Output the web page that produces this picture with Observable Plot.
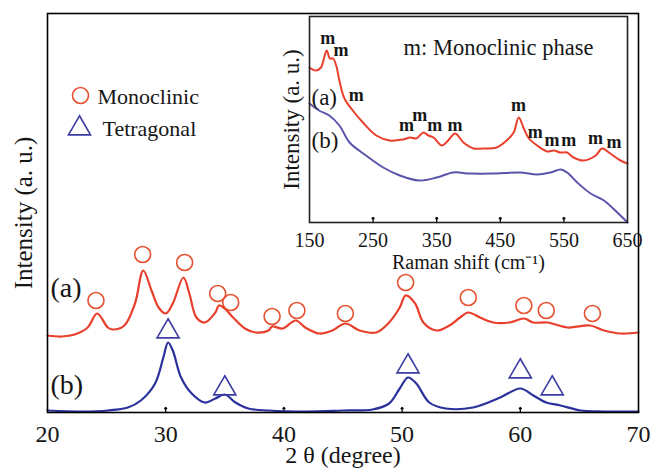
<!DOCTYPE html>
<html><head><meta charset="utf-8">
<script src="https://cdn.jsdelivr.net/npm/d3@7"></script>
<script src="https://cdn.jsdelivr.net/npm/@observablehq/plot@0.6"></script>
<style>
body{margin:0;background:#fff;}
#wrap{position:relative;width:654px;height:468px;overflow:hidden;}
#main,#inset{position:absolute;top:0;}
#main{left:0;}
#inset{left:270px;}
</style></head><body>
<div id="wrap"><div id="main"></div><div id="inset"></div></div>
<script>
// ---- XRD pattern (a): red ----
const twoThetaA = [20.0,21.2,22.3,23.4,24.2,25.1,25.5,26.5,27.4,28.1,28.8,29.4,30.0,30.6,31.5,32.0,32.6,33.3,34.2,34.5,35.0,35.7,36.7,37.6,38.7,39.0,39.9,41.0,41.8,43.0,44.1,45.2,46.4,47.8,48.9,49.8,50.3,51.1,51.8,52.9,54.0,54.9,55.6,56.6,57.7,59.1,60.3,61.1,62.3,64.0,65.9,67.1,68.5,70.0];
const intensityA = [77,76,78,85,99,85,83,87,109,142,122,105,99,109,135,119,95,90,100,107,104,95,84,80,82,86,84,92,85,79,82,89,82,80,90,105,117,109,90,82,87,95,100,95,90,90,94,90,90,85,87,82,79,80];
// ---- XRD pattern (b): blue ----
const twoThetaB = [20,23,25.1,26.8,27.9,29.1,29.8,30.2,30.6,31.3,32.2,33.3,34.2,35.0,35.9,37.0,38.7,42,45,47.5,48.9,49.8,50.5,51.2,52.3,53.7,56.0,58.3,60.0,61.1,62.2,63.4,65.1,67,70];
const intensityB = [2,1,2,5,12,29,55,70,62,35,19,10,14,18,10,4,2,1,2,3,9,24,35,29,10,4,5,15,24,17,10,7,2,1,1];
// ---- phase markers ----
const monoX = [24.1,28.05,31.6,34.4,35.5,39.0,41.1,45.2,50.3,55.6,60.3,62.2,66.1];
const monoY = [112,158,150,119,110,96,102,99,130,115,107,102,99];
const tetraX = [30.2,35.0,50.5,60.0,62.7];
const tetraY = [81,24,46,41,24];
const xTicks = [20,30,40,50,60,70];
const legendLabels = ["Monoclinic","Tetragonal"];

// ---- Raman inset ----
const ramanA = [150,160,168,177,182,187,192,197,205,218,234,255,276,297,308,318,329,337,345,358,368,379,392,408,423,444,460,471,479,487,495,508,524,534,544,555,565,581,600,610,623,639,650];
const ramanAI = [155,152,155,172,164,164,157,142,124,112,100,87,82,83,85,84,90,87,85,77,82,89,80,74,74,75,82,90,105,94,84,77,71,72,70,70,65,62,67,74,69,62,59];
const ramanB = [150,165,181,197,213,239,266,292,323,350,376,402,439,481,508,529,545,555,571,592,613,634,650];
const ramanBI = [119,112,107,97,80,67,55,47,42,45,50,49,49,50,48,50,53,50,40,29,22,10,0];
const mX = [178.7,199.7,223.4,302.4,323.4,347,378.6,478.8,505,531.3,557.7,599.7,628.8];
const mY = [184,172,127,97,107,97,97,117,90,82,82,84,80];
const ramanTicks = [150,250,350,450,550,650];

const serif = "'Liberation Serif','Times New Roman',serif";
const red = "#e8402c", circ = "#e5502f", blue = "#2a309c", tri = "#3c3ca2", iblue = "#5a54ac", ink = "#161616";

const tA = twoThetaA.map((t,i)=>({t, v:intensityA[i]}));
const tB = twoThetaB.map((t,i)=>({t, v:intensityB[i]}));
const mono = monoX.map((t,i)=>({t, v:monoY[i]}));
const tetra = tetraX.map((t,i)=>({t, v:tetraY[i]}));
const rA = ramanA.map((r,i)=>({r, v:ramanAI[i]}));
const rB = ramanB.map((r,i)=>({r, v:ramanBI[i]}));
const mLab = mX.map((r,i)=>({r, v:mY[i]}));

const main = Plot.plot({
  width: 654, height: 468,
  marginLeft: 47, marginRight: 16, marginTop: 13, marginBottom: 56,
  style: {fontFamily: serif, color: ink, background: "transparent"},
  x: {domain: [20, 70]},
  y: {domain: [0, 399], axis: null},
  marks: [
    Plot.axisX({ticks: xTicks, tickSize: 0, tickPadding: 12, fontSize: 24, label: null, tickFormat: d => String(d)}),
    Plot.vectorX(xTicks.slice(1, -1), {x: d => d, frameAnchor: "bottom", length: 5, rotate: 0, anchor: "start", stroke: "#000", strokeWidth: 1.3}),
    Plot.line(tA, {x: "t", y: "v", stroke: red, strokeWidth: 2.2, curve: "catmull-rom"}),
    Plot.line(tB, {x: "t", y: "v", stroke: blue, strokeWidth: 2.2, curve: "catmull-rom"}),
    Plot.dot(mono, {x: "t", y: "v", r: 8, stroke: circ, strokeWidth: 1.6, fill: "none"}),
    Plot.dot(tetra, {x: "t", y: "v", r: 8.2, symbol: "triangle", stroke: tri, strokeWidth: 1.6, fill: "none"}),
    Plot.frame({stroke: "#000", strokeWidth: 1.6}),
    Plot.text(["Intensity (a. u.)"], {frameAnchor: "left", textAnchor: "middle", lineAnchor: "middle", rotate: -90, dx: -24, fontSize: 25, fill: ink}),
    Plot.text(["2 θ (degree)"], {frameAnchor: "bottom", textAnchor: "middle", lineAnchor: "middle", dy: 43, fontSize: 24, fill: ink}),
    Plot.text(["(a)"], {frameAnchor: "top-left", dx: 3, dy: 275, textAnchor: "start", lineAnchor: "middle", fontSize: 28, fill: ink}),
    Plot.text(["(b)"], {frameAnchor: "top-left", dx: 3, dy: 372, textAnchor: "start", lineAnchor: "middle", fontSize: 28, fill: ink}),
    Plot.dot([legendLabels[0]], {frameAnchor: "top-left", dx: 33, dy: 82, r: 8, stroke: circ, strokeWidth: 1.6, fill: "none"}),
    Plot.dot([legendLabels[1]], {frameAnchor: "top-left", dx: 32, dy: 115, r: 8.2, symbol: "triangle", stroke: tri, strokeWidth: 1.6, fill: "none"}),
    Plot.text([legendLabels[0]], {frameAnchor: "top-left", dx: 50, dy: 83, textAnchor: "start", lineAnchor: "middle", fontSize: 22, fill: ink}),
    Plot.text([legendLabels[1]], {frameAnchor: "top-left", dx: 55, dy: 115, textAnchor: "start", lineAnchor: "middle", fontSize: 22, fill: ink})
  ]
});
document.getElementById("main").append(main);

const inset = Plot.plot({
  width: 384, height: 280,
  marginLeft: 39, marginRight: 27, marginTop: 16, marginBottom: 58,
  style: {fontFamily: serif, color: ink, background: "transparent"},
  x: {domain: [150, 650]},
  y: {domain: [0, 206], axis: null},
  marks: [
    Plot.axisX({ticks: ramanTicks, tickSize: 0, tickPadding: 10, fontSize: 20, label: null, tickFormat: d => String(d)}),
    Plot.vectorX(ramanTicks.slice(1, -1), {x: d => d, frameAnchor: "bottom", length: 5, rotate: 0, anchor: "start", stroke: "#000", strokeWidth: 1.3}),
    Plot.line(rA, {x: "r", y: "v", stroke: red, strokeWidth: 2, curve: "catmull-rom"}),
    Plot.line(rB, {x: "r", y: "v", stroke: iblue, strokeWidth: 2, curve: "catmull-rom"}),
    Plot.text(mLab, {x: "r", y: "v", text: () => "m", fontSize: 18, fontWeight: "bold", lineAnchor: "middle", fill: ink}),
    Plot.text(["m: Monoclinic phase"], {frameAnchor: "top-left", dx: 94, dy: 31, textAnchor: "start", lineAnchor: "middle", fontSize: 22.5, fill: ink}),
    Plot.text(["(a)"], {frameAnchor: "top-left", dx: 2, dy: 81, textAnchor: "start", lineAnchor: "middle", fontSize: 23, fill: ink}),
    Plot.text(["(b)"], {frameAnchor: "top-left", dx: 2, dy: 124, textAnchor: "start", lineAnchor: "middle", fontSize: 23, fill: ink}),
    Plot.text(["Intensity (a. u.)"], {frameAnchor: "left", textAnchor: "middle", lineAnchor: "middle", rotate: -90, dx: -18, fontSize: 23, fill: ink}),
    Plot.text(["Raman shift (cm⁻¹)"], {frameAnchor: "bottom", textAnchor: "middle", lineAnchor: "middle", dy: 40, fontSize: 20, fill: ink}),
    Plot.frame({stroke: "#222", strokeWidth: 1.6})
  ]
});
document.getElementById("inset").append(inset);
</script>
</body></html>
